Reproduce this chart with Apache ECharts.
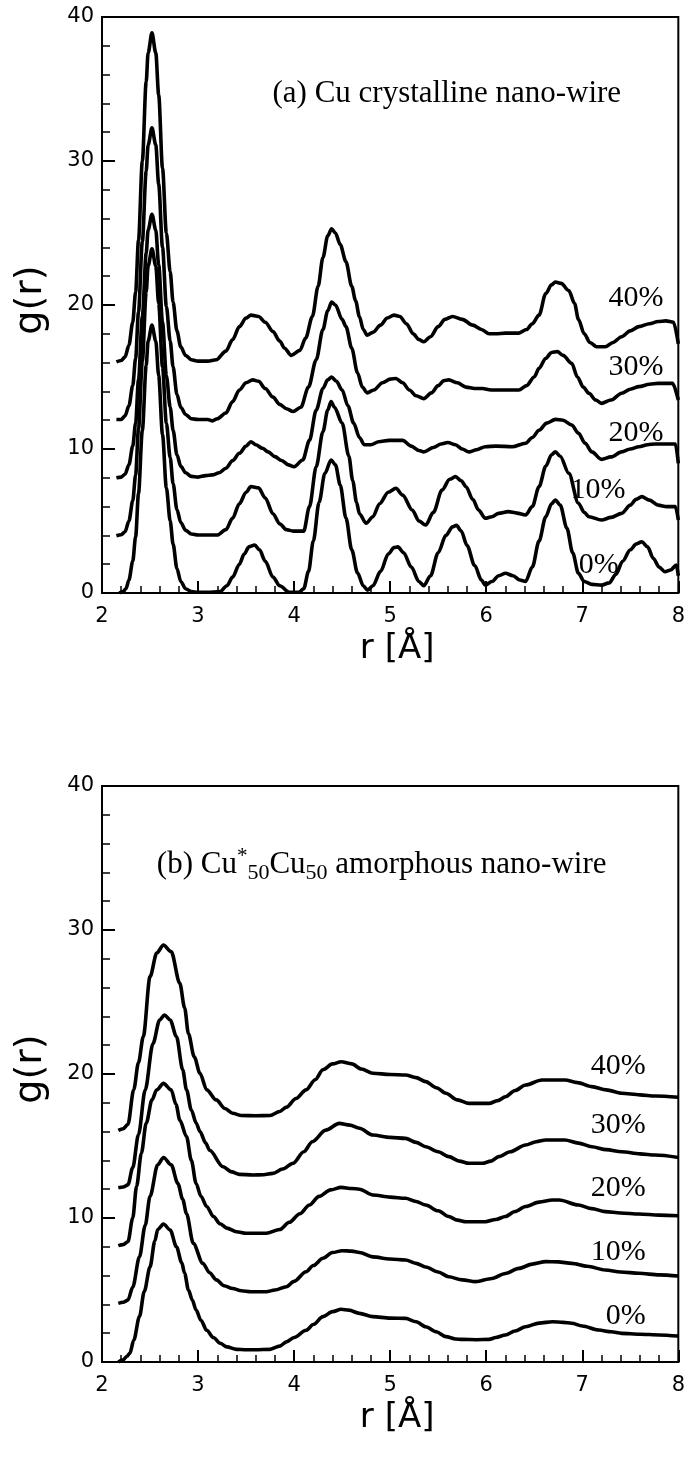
<!DOCTYPE html>
<html><head><meta charset="utf-8">
<script src="https://cdn.jsdelivr.net/npm/echarts@6/dist/echarts.min.js"></script>
<style>html,body{margin:0;padding:0;background:#fff}#c{width:688px;height:1467px}</style>
</head><body><div id="c"></div>
<script>
// ---------- data: panel (a) Cu crystalline nano-wire, g(r) shifted curves ----------
const crys0 = [[2.18,0],[2.22,0.1],[2.25,0.3],[2.28,0.9],[2.32,2.2],[2.35,3.9],[2.38,6.9],[2.42,11.3],[2.46,15.8],[2.48,17.5],[2.52,18.6],[2.56,17.5],[2.59,15.1],[2.63,11.0],[2.67,7.3],[2.71,5.0],[2.74,3.4],[2.78,1.7],[2.82,0.8],[2.87,0.3],[2.93,0.1],[3.0,0.05],[3.1,0.05],[3.23,0.1],[3.3,0.5],[3.36,1.1],[3.43,2.0],[3.48,2.7],[3.53,3.2],[3.59,3.33],[3.64,3.0],[3.7,2.2],[3.78,1.1],[3.85,0.5],[3.95,0.05],[4.05,0.05],[4.1,0.3],[4.15,1.5],[4.2,3.6],[4.26,6.3],[4.32,8.3],[4.385,9.24],[4.43,8.9],[4.48,7.5],[4.54,5.2],[4.6,3.0],[4.66,1.4],[4.72,0.5],[4.765,0.2],[4.82,0.5],[4.9,1.5],[4.98,2.7],[5.04,3.15],[5.08,3.2],[5.14,2.8],[5.22,1.8],[5.3,0.8],[5.35,0.5],[5.42,1.2],[5.5,2.8],[5.58,4.0],[5.65,4.6],[5.69,4.7],[5.74,4.3],[5.8,3.3],[5.88,1.9],[5.95,0.9],[5.99,0.55],[6.06,0.8],[6.13,1.2],[6.2,1.37],[6.28,1.2],[6.35,0.9],[6.41,0.8],[6.48,1.8],[6.55,3.6],[6.62,5.3],[6.68,6.2],[6.72,6.46],[6.77,6.1],[6.84,4.5],[6.9,2.8],[6.96,1.37],[7.02,0.8],[7.1,0.6],[7.2,0.55],[7.28,0.7],[7.35,1.3],[7.42,2.2],[7.5,3.0],[7.56,3.4],[7.62,3.56],[7.68,3.2],[7.74,2.4],[7.8,1.8],[7.86,1.48],[7.92,1.6],[7.98,1.94],[8.0,1.2]];
const crys10 = [[2.15,3.98],[2.2,4.05],[2.24,4.25],[2.28,5.0],[2.32,6.4],[2.35,8.2],[2.38,11.4],[2.42,16.1],[2.46,20.9],[2.48,22.7],[2.52,23.9],[2.56,22.7],[2.59,20.1],[2.63,15.7],[2.67,11.8],[2.71,9.4],[2.74,7.6],[2.78,5.8],[2.82,4.9],[2.87,4.35],[2.93,4.1],[3.0,4.03],[3.1,4.03],[3.2,4.03],[3.29,4.4],[3.36,5.2],[3.43,6.2],[3.5,7.0],[3.55,7.4],[3.63,7.3],[3.7,6.6],[3.78,5.5],[3.85,4.8],[3.92,4.4],[3.99,4.3],[4.1,4.3],[4.16,6.0],[4.23,8.77],[4.3,11.2],[4.35,12.7],[4.385,13.3],[4.42,12.9],[4.5,11.8],[4.57,9.5],[4.61,7.8],[4.65,6.3],[4.68,5.5],[4.75,4.84],[4.82,5.3],[4.89,6.2],[4.98,7.0],[5.06,7.27],[5.13,6.8],[5.23,5.76],[5.3,5.0],[5.37,4.72],[5.45,5.6],[5.54,7.15],[5.62,7.9],[5.68,8.08],[5.74,7.8],[5.79,7.38],[5.86,6.5],[5.92,5.76],[5.99,5.19],[6.06,5.3],[6.13,5.53],[6.23,5.65],[6.32,5.55],[6.41,5.42],[6.48,6.0],[6.55,7.38],[6.62,8.8],[6.68,9.6],[6.72,9.81],[6.77,9.5],[6.86,8.31],[6.96,6.23],[7.02,5.6],[7.07,5.3],[7.2,5.07],[7.3,5.25],[7.41,5.53],[7.5,6.1],[7.56,6.5],[7.62,6.69],[7.7,6.45],[7.79,6.1],[7.88,6.0],[7.97,6.0],[8.0,5.07]];
const crys20 = [[2.15,8.0],[2.2,8.05],[2.24,8.25],[2.28,8.9],[2.32,10.2],[2.35,11.8],[2.38,14.8],[2.42,19.2],[2.46,23.6],[2.48,25.2],[2.52,26.3],[2.56,25.2],[2.59,22.8],[2.63,18.8],[2.67,15.1],[2.71,12.9],[2.74,11.3],[2.78,9.6],[2.82,8.8],[2.87,8.35],[2.93,8.1],[3.0,8.05],[3.08,8.15],[3.15,8.2],[3.22,8.35],[3.29,8.66],[3.36,9.2],[3.43,9.7],[3.5,10.2],[3.55,10.5],[3.6,10.3],[3.67,10.05],[3.73,9.8],[3.8,9.47],[3.87,9.2],[3.94,8.9],[4.0,8.77],[4.09,9.24],[4.16,10.6],[4.23,12.7],[4.3,14.2],[4.35,14.8],[4.39,15.0],[4.44,14.7],[4.5,14.1],[4.56,13.0],[4.62,11.8],[4.68,10.8],[4.73,10.3],[4.8,10.3],[4.88,10.5],[4.99,10.6],[5.13,10.6],[5.22,10.2],[5.3,9.9],[5.35,9.8],[5.45,10.1],[5.53,10.35],[5.6,10.45],[5.68,10.3],[5.75,10.0],[5.82,9.8],[5.9,9.95],[5.99,10.16],[6.1,10.2],[6.27,10.16],[6.41,10.4],[6.48,10.8],[6.55,11.3],[6.63,11.8],[6.72,12.06],[6.8,12.0],[6.89,11.67],[6.96,11.1],[7.03,10.4],[7.1,9.8],[7.2,9.28],[7.3,9.45],[7.41,9.8],[7.5,10.0],[7.59,10.16],[7.68,10.3],[7.76,10.35],[7.97,10.35],[8.0,9.0]];
const crys30 = [[2.15,12.05],[2.2,12.05],[2.24,12.3],[2.28,13.0],[2.32,14.4],[2.35,16.3],[2.38,19.5],[2.42,24.4],[2.46,29.3],[2.48,31.1],[2.52,32.3],[2.56,31.1],[2.59,28.4],[2.63,24.0],[2.67,19.9],[2.71,17.5],[2.74,15.7],[2.78,13.8],[2.82,12.9],[2.87,12.4],[2.93,12.1],[3.0,12.05],[3.1,12.05],[3.15,11.95],[3.2,12.1],[3.29,12.5],[3.36,13.3],[3.43,14.1],[3.5,14.6],[3.57,14.8],[3.63,14.7],[3.7,14.2],[3.78,13.6],[3.85,13.1],[3.92,12.8],[3.99,12.6],[4.07,12.9],[4.15,14.3],[4.23,16.2],[4.3,18.3],[4.35,19.6],[4.39,20.2],[4.43,20.0],[4.5,19.0],[4.54,18.5],[4.6,17.0],[4.66,15.3],[4.71,14.3],[4.76,13.9],[4.83,14.1],[4.92,14.6],[5.0,14.85],[5.06,14.9],[5.13,14.6],[5.2,14.1],[5.27,13.7],[5.35,13.5],[5.43,13.9],[5.5,14.4],[5.56,14.75],[5.61,14.8],[5.7,14.6],[5.79,14.3],[5.88,14.2],[5.96,14.2],[6.05,14.1],[6.2,14.1],[6.34,14.1],[6.42,14.4],[6.5,15.0],[6.55,15.6],[6.62,16.3],[6.68,16.7],[6.74,16.76],[6.8,16.5],[6.89,15.95],[6.95,15.0],[7.01,14.3],[7.07,13.87],[7.14,13.4],[7.2,13.17],[7.3,13.4],[7.41,13.87],[7.5,14.15],[7.59,14.33],[7.7,14.5],[7.79,14.56],[7.94,14.56],[8.0,13.4]];
const crys40 = [[2.15,16.05],[2.2,16.15],[2.24,16.4],[2.28,17.2],[2.32,18.8],[2.35,20.9],[2.38,24.5],[2.42,30.0],[2.46,35.5],[2.48,37.5],[2.52,38.9],[2.56,37.5],[2.59,34.6],[2.63,29.5],[2.67,25.0],[2.71,22.3],[2.74,20.2],[2.78,18.2],[2.82,17.1],[2.87,16.5],[2.93,16.2],[3.0,16.1],[3.1,16.1],[3.19,16.2],[3.29,16.8],[3.36,17.6],[3.43,18.5],[3.5,19.1],[3.55,19.3],[3.63,19.2],[3.7,18.8],[3.78,18.15],[3.85,17.5],[3.9,17.0],[3.97,16.5],[4.06,16.85],[4.12,17.7],[4.19,19.2],[4.25,21.3],[4.3,23.3],[4.35,24.8],[4.39,25.3],[4.43,25.0],[4.48,24.2],[4.54,23.0],[4.6,21.3],[4.64,20.3],[4.68,19.2],[4.72,18.3],[4.76,17.9],[4.82,18.1],[4.9,18.6],[4.97,19.1],[5.04,19.3],[5.1,19.2],[5.17,18.7],[5.24,18.0],[5.3,17.6],[5.35,17.45],[5.42,17.8],[5.5,18.5],[5.57,19.0],[5.65,19.2],[5.75,19.0],[5.86,18.6],[5.95,18.3],[6.03,18.0],[6.1,18.0],[6.2,18.05],[6.34,18.05],[6.42,18.3],[6.48,18.7],[6.55,19.3],[6.62,20.8],[6.68,21.4],[6.72,21.6],[6.78,21.5],[6.86,21.0],[6.92,20.1],[6.96,19.0],[7.02,18.0],[7.08,17.4],[7.15,17.1],[7.24,17.1],[7.32,17.4],[7.41,17.8],[7.5,18.2],[7.59,18.5],[7.7,18.7],[7.79,18.85],[7.87,18.9],[7.95,18.8],[8.0,17.3]];

// ---------- data: panel (b) Cu*50Cu50 amorphous nano-wire ----------
const amor0 = [[2.17,0],[2.22,0.15],[2.26,0.4],[2.29,0.6],[2.33,1.5],[2.39,3.15],[2.44,4.9],[2.5,6.6],[2.55,8.4],[2.58,9.2],[2.64,9.58],[2.71,9.17],[2.775,8.0],[2.83,6.9],[2.86,6.16],[2.9,5.0],[2.94,4.3],[2.98,3.6],[3.03,2.9],[3.09,2.2],[3.16,1.7],[3.23,1.3],[3.3,1.05],[3.4,0.88],[3.5,0.85],[3.6,0.85],[3.75,0.88],[3.85,1.1],[3.92,1.4],[4.0,1.7],[4.125,2.2],[4.2,2.6],[4.3,3.15],[4.4,3.5],[4.49,3.66],[4.57,3.6],[4.68,3.38],[4.82,3.15],[5.0,3.05],[5.16,3.03],[5.27,2.8],[5.37,2.45],[5.48,2.1],[5.58,1.76],[5.68,1.6],[5.75,1.57],[5.9,1.55],[6.03,1.57],[6.1,1.7],[6.2,1.87],[6.3,2.15],[6.41,2.45],[6.55,2.7],[6.69,2.8],[6.8,2.75],[6.89,2.69],[7.0,2.5],[7.17,2.22],[7.3,2.1],[7.41,1.99],[7.6,1.93],[7.8,1.88],[8.0,1.8]];
const amor10 = [[2.17,4.07],[2.22,4.15],[2.27,4.3],[2.32,5.2],[2.39,7.3],[2.45,9.5],[2.5,11.5],[2.58,13.7],[2.64,14.2],[2.72,13.7],[2.79,12.4],[2.84,11.3],[2.88,10.3],[2.95,8.24],[3.05,6.85],[3.12,6.2],[3.19,5.7],[3.27,5.3],[3.36,5.1],[3.45,4.95],[3.55,4.88],[3.71,4.88],[3.8,5.0],[3.92,5.23],[4.0,5.6],[4.125,6.27],[4.2,6.7],[4.3,7.2],[4.4,7.6],[4.5,7.73],[4.6,7.7],[4.68,7.6],[4.82,7.3],[5.0,7.15],[5.16,7.08],[5.27,6.85],[5.37,6.6],[5.5,6.25],[5.61,5.92],[5.75,5.7],[5.89,5.58],[6.06,5.8],[6.2,6.15],[6.34,6.5],[6.48,6.8],[6.62,6.97],[6.75,6.95],[6.89,6.85],[7.05,6.65],[7.24,6.39],[7.4,6.25],[7.59,6.16],[7.8,6.05],[8.0,5.97]];
const amor20 = [[2.17,8.08],[2.22,8.15],[2.27,8.35],[2.32,10.0],[2.36,12.2],[2.41,14.5],[2.46,16.57],[2.52,18.2],[2.57,18.9],[2.64,19.35],[2.72,18.9],[2.77,17.9],[2.81,16.8],[2.88,15.65],[2.93,14.0],[2.98,12.4],[3.03,11.5],[3.09,10.8],[3.16,10.1],[3.23,9.6],[3.3,9.3],[3.4,9.05],[3.5,8.94],[3.71,8.94],[3.85,9.2],[3.95,9.7],[4.06,10.3],[4.16,10.9],[4.26,11.5],[4.38,11.95],[4.49,12.13],[4.6,12.05],[4.68,12.0],[4.82,11.6],[5.0,11.45],[5.16,11.37],[5.27,11.15],[5.37,10.9],[5.5,10.5],[5.61,10.1],[5.7,9.85],[5.79,9.74],[5.99,9.74],[6.1,9.9],[6.2,10.1],[6.3,10.45],[6.41,10.8],[6.55,11.1],[6.69,11.25],[6.76,11.25],[6.96,10.9],[7.1,10.65],[7.24,10.44],[7.4,10.35],[7.59,10.28],[7.8,10.2],[8.0,10.16]];
const amor30 = [[2.17,12.1],[2.22,12.15],[2.27,12.3],[2.32,13.5],[2.38,15.8],[2.45,18.9],[2.53,22.1],[2.6,23.75],[2.65,24.1],[2.71,23.75],[2.775,22.6],[2.84,20.3],[2.88,18.9],[2.93,17.5],[2.98,16.6],[3.02,16.0],[3.08,15.2],[3.12,14.7],[3.26,13.56],[3.35,13.2],[3.43,13.03],[3.57,12.99],[3.68,13.0],[3.78,13.1],[3.88,13.4],[3.99,13.8],[4.1,14.6],[4.19,15.3],[4.33,16.1],[4.47,16.57],[4.58,16.45],[4.68,16.23],[4.82,15.76],[5.0,15.6],[5.16,15.53],[5.27,15.25],[5.37,14.95],[5.5,14.6],[5.61,14.26],[5.72,13.95],[5.82,13.8],[5.96,13.8],[6.05,13.95],[6.13,14.26],[6.25,14.6],[6.41,15.07],[6.52,15.3],[6.62,15.42],[6.82,15.42],[6.96,15.2],[7.1,14.95],[7.25,14.75],[7.41,14.6],[7.6,14.45],[7.76,14.37],[8.0,14.2]];
const amor40 = [[2.17,16.08],[2.22,16.2],[2.27,16.5],[2.33,18.9],[2.38,20.8],[2.43,22.6],[2.5,26.76],[2.57,28.4],[2.64,28.96],[2.72,28.5],[2.81,26.3],[2.86,24.6],[2.9,22.8],[2.96,21.2],[3.02,20.05],[3.09,18.9],[3.19,18.2],[3.28,17.6],[3.36,17.27],[3.45,17.12],[3.6,17.1],[3.75,17.12],[3.85,17.4],[3.92,17.7],[4.02,18.3],[4.125,18.9],[4.22,19.6],[4.3,20.3],[4.4,20.7],[4.49,20.85],[4.6,20.7],[4.7,20.35],[4.82,20.05],[5.0,19.97],[5.16,19.93],[5.27,19.75],[5.37,19.47],[5.48,19.05],[5.58,18.66],[5.7,18.2],[5.82,17.96],[6.03,17.96],[6.12,18.15],[6.2,18.42],[6.3,18.85],[6.41,19.24],[6.58,19.58],[6.82,19.58],[6.95,19.4],[7.1,19.12],[7.25,18.9],[7.41,18.66],[7.6,18.55],[7.76,18.47],[8.0,18.38]];

// ---------- text ----------
const pctNames = ['0%','10%','20%','30%','40%'];
const labelPosA = [[7.38,1.94],[7.45,7.15],[7.845,11.1],[7.845,15.7],[7.845,20.5]];
const labelPosB = [[7.66,3.19],[7.66,7.64],[7.66,12.08],[7.66,16.46],[7.66,20.56]];
const titleA = {pos:[3.775,34.65], text:'(a) Cu crystalline nano-wire'};
const titleB = {pos:[2.571,34.5], text:'(b) Cu{sup|*}{sub|50}Cu{sub|50} amorphous nano-wire'};
const xAxisName = 'r [Å]';
const yAxisName = 'g(r)';

const chart = echarts.init(document.getElementById('c'), null, {renderer:'canvas'});
const serif = 'Liberation Serif, Times New Roman, serif';
const sans = 'DejaVu Sans, sans-serif';

function xAx(i){
  return {type:'value', gridIndex:i, min:2, max:8, interval:1,
    name:xAxisName, nameLocation:'middle', nameGap:39,
    nameTextStyle:{fontFamily:sans, fontSize:34, color:'#000', padding:[0,0,0,14]},
    axisLine:{lineStyle:{color:'#000', width:2}},
    axisTick:{inside:true, length:12, lineStyle:{color:'#000', width:2}},
    minorTick:{show:true, splitNumber:5, length:7, lineStyle:{color:'#000', width:1.5}},
    axisLabel:{margin:13, fontFamily:sans, fontSize:21, color:'#000'},
    splitLine:{show:false}};
}
function yAx(i){
  return {type:'value', gridIndex:i, min:0, max:40, interval:10,
    name:yAxisName, nameLocation:'middle', nameGap:52, nameRotate:90,
    nameTextStyle:{fontFamily:sans, fontSize:38, color:'#000', padding:[0,0,0,10]},
    axisLine:{lineStyle:{color:'#000', width:2}},
    axisTick:{inside:true, length:13, lineStyle:{color:'#000', width:2}},
    minorTick:{show:true, splitNumber:5, length:8, lineStyle:{color:'#000', width:1.5}},
    axisLabel:{margin:8, fontFamily:sans, fontSize:21, color:'#000'},
    splitLine:{show:false}};
}
function curve(d, i){
  return {type:'line', xAxisIndex:i, yAxisIndex:i, data:d, showSymbol:false, symbol:'none',
    smooth:0.3, smoothMonotone:'x',
    lineStyle:{color:'#000', width:3.6, opacity:1}, silent:true, z:3};
}
function pctSeries(pos, i){
  return {type:'scatter', xAxisIndex:i, yAxisIndex:i, symbolSize:0, silent:true, z:4,
    itemStyle:{opacity:1},
    data: pos.map((p,k)=>[p[0],p[1],pctNames[k]]),
    label:{show:true, position:'left', distance:0, formatter:p=>p.value[2], opacity:1,
      fontFamily:serif, fontSize:30, color:'#000'}};
}
function titleSeries(t, i){
  return {type:'scatter', xAxisIndex:i, yAxisIndex:i, symbolSize:0, silent:true, z:4,
    itemStyle:{opacity:1},
    data:[[t.pos[0], t.pos[1]]],
    label:{show:true, position:'right', distance:0, formatter:t.text, opacity:1,
      fontFamily:serif, fontSize:31, color:'#000', lineHeight:38,
      rich:{
        sup:{fontFamily:serif, fontSize:21, color:'#000', verticalAlign:'top', lineHeight:21},
        sub:{fontFamily:serif, fontSize:22, color:'#000', verticalAlign:'bottom', lineHeight:22}
      }}};
}

chart.setOption({
  backgroundColor:'#fff',
  animation:false,
  grid:[
    {left:102, top:17, width:578, height:576, show:true, borderColor:'#000', borderWidth:2, backgroundColor:'transparent'},
    {left:102, top:786, width:578, height:576, show:true, borderColor:'#000', borderWidth:2, backgroundColor:'transparent'}
  ],
  xAxis:[xAx(0), xAx(1)],
  yAxis:[yAx(0), yAx(1)],
  series:[
    curve(crys0,0), curve(crys10,0), curve(crys20,0), curve(crys30,0), curve(crys40,0),
    curve(amor0,1), curve(amor10,1), curve(amor20,1), curve(amor30,1), curve(amor40,1),
    pctSeries(labelPosA,0), pctSeries(labelPosB,1),
    titleSeries(titleA,0), titleSeries(titleB,1)
  ]
});
</script></body></html>
